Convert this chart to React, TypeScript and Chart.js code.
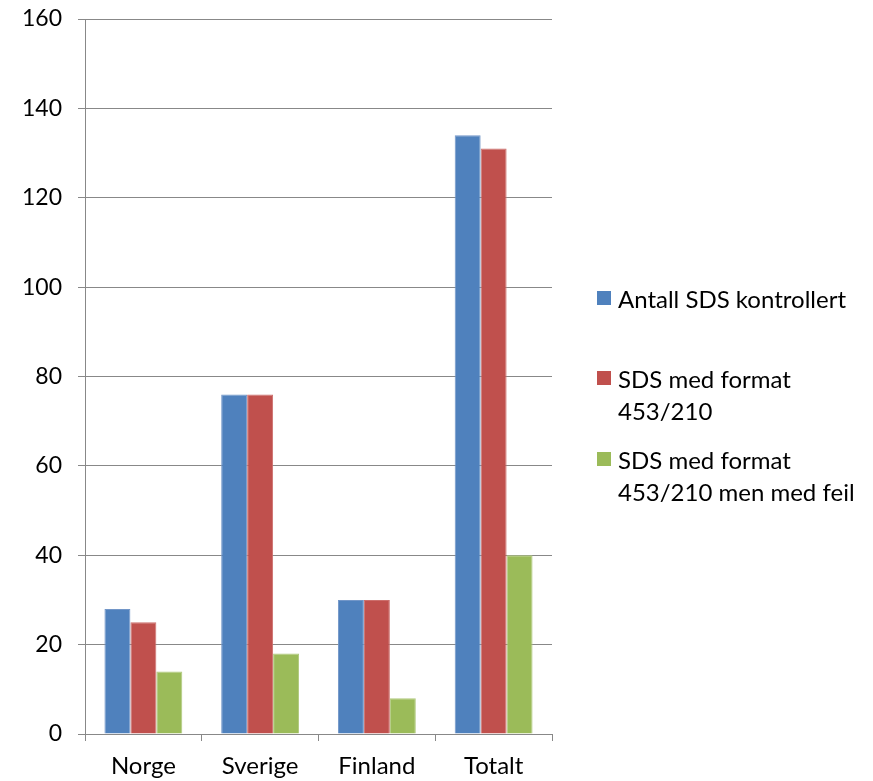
import React, { useEffect, useRef } from "react";
import { Chart, registerables } from "chart.js";

Chart.register(...registerables);

const categories = ["Norge", "Sverige", "Finland", "Totalt"];
const antallKontrollert = [28, 76, 30, 134];
const medFormat = [25, 76, 30, 131];
const medFormatFeil = [14, 18, 8, 40];
const seriesLegendLines = [
  ["Antall SDS kontrollert"],
  ["SDS med format", "453/210"],
  ["SDS med format", "453/210 men med feil"],
];
const seriesColors = ["#4F81BD", "#C0504D", "#9BBB59"];
const seriesBorders = ["#7296C8", "#CC6E6B", "#AFC97D"];
const yMin = 0;
const yMax = 160;
const yStep = 20;

const FONT = "Lato, 'Open Sans', sans-serif";

export default function App() {
  const ref = useRef<HTMLCanvasElement | null>(null);

  useEffect(() => {
    document.body.style.margin = "0";
    if (!ref.current) return;
    const values = [antallKontrollert, medFormat, medFormatFeil];
    const chart = new Chart(ref.current, {
      type: "bar",
      data: {
        labels: categories,
        datasets: values.map((v, i) => ({
          label: seriesLegendLines[i].join(" "),
          data: v,
          backgroundColor: seriesColors[i],
          borderColor: seriesBorders[i],
          borderWidth: 1,
          categoryPercentage: 0.667,
          barPercentage: 1,
        })),
      },
      options: {
        responsive: false,
        animation: false,
        layout: { padding: { top: 19, right: 321, left: 0, bottom: 0 } },
        plugins: { legend: { display: false }, tooltip: { enabled: false } },
        scales: {
          x: {
            grid: {
              offset: true,
              drawOnChartArea: false,
              drawTicks: true,
              tickLength: 7,
              color: "#888888",
            },
            border: { color: "#888888", width: 1 },
            ticks: { font: { family: FONT, size: 24 }, color: "#000", padding: 11 },
            afterFit: (s: any) => {
              s.height = 47;
              s.paddingLeft = 0;
              s.paddingRight = 0;
            },
          },
          y: {
            min: yMin,
            max: yMax,
            ticks: { stepSize: yStep, font: { family: FONT, size: 23 }, color: "#000", padding: 16 },
            grid: { color: "#888888", tickLength: 7, drawTicks: true },
            border: { color: "#888888", width: 1 },
            afterFit: (s: any) => {
              s.width = 85;
              s.paddingTop = 0;
              s.paddingBottom = 0;
            },
          },
        },
      },
    });
    return () => chart.destroy();
  }, []);

  const capTops = [291, 371, 452];

  return (
    <div style={{ position: "relative", width: 873, height: 781, background: "#fff" }}>
      <canvas ref={ref} width={873} height={781} style={{ display: "block" }} />
      {seriesLegendLines.map((lines, i) => (
        <React.Fragment key={i}>
          <div
            style={{
              position: "absolute",
              left: 597,
              top: capTops[i],
              width: 14,
              height: 14,
              background: seriesColors[i],
            }}
          />
          <div
            style={{
              position: "absolute",
              left: 618,
              top: capTops[i] - 8,
              fontFamily: FONT,
              fontSize: 24,
              lineHeight: "32px",
              color: "#000",
              whiteSpace: "nowrap",
            }}
          >
            {lines.map((l, j) => (
              <div key={j}>{l}</div>
            ))}
          </div>
        </React.Fragment>
      ))}
    </div>
  );
}
